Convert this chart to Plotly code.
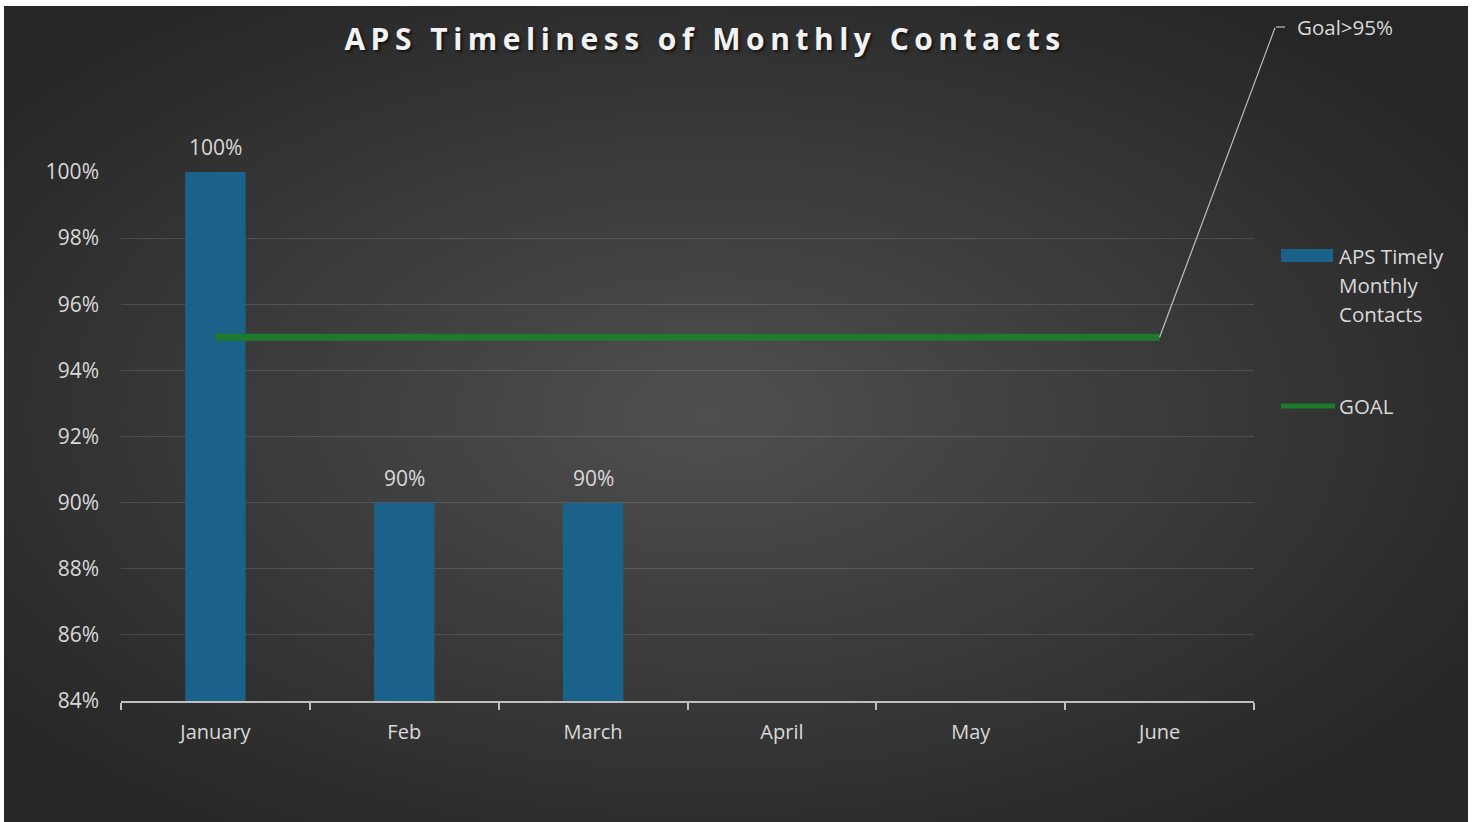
import base64
import plotly.graph_objects as go

# ---- data ----
months = ["January", "Feb", "March", "April", "May", "June"]
timely = [1.00, 0.90, 0.90, None, None, None]
goal = [0.95, 0.95, 0.95, 0.95, 0.95, 0.95]
bar_labels = ["100%", "90%", "90%", "", "", ""]
series_names = ["APS Timely Monthly Contacts", "GOAL"]
legend_lines = ["APS Timely", "Monthly", "Contacts"]
goal_note = "Goal>95%"
title_text = "APS Timeliness of Monthly Contacts"

W, H = 1476, 822
L, R, T, B = 121, 222, 172, 121
PW, PH = W - L - R, H - T - B


def px(x):
    return (x - L) / PW


def py(y):
    return (H - B - y) / PH


TXT = "#d9d9d9"
FONT = "Open Sans"
BAR_C = "#1a6289"
GOAL_C = "#1e7a2c"

svg = (
    "<svg xmlns='http://www.w3.org/2000/svg' width='1464' height='816' "
    "viewBox='0 0 1464 816' preserveAspectRatio='none'>"
    "<defs><radialGradient id='g' cx='0.48' cy='0.5' r='0.62'>"
    "<stop offset='0' stop-color='#4f4f4f'/>"
    "<stop offset='1' stop-color='#262626'/>"
    "</radialGradient></defs>"
    "<rect width='1464' height='816' fill='url(#g)'/></svg>"
)
bg_uri = "data:image/svg+xml;base64," + base64.b64encode(svg.encode()).decode()

fig = go.Figure()
fig.add_trace(go.Bar(
    x=months, y=timely, name=series_names[0],
    marker=dict(color=BAR_C, line=dict(width=0)),
    width=0.32, showlegend=False, cliponaxis=True,
))
fig.add_trace(go.Scatter(
    x=months, y=goal, name=series_names[1], mode="lines",
    line=dict(color=GOAL_C, width=7), showlegend=False,
))

shapes = [
    # custom legend swatches
    dict(type="rect", xref="paper", yref="paper",
         x0=px(1281), x1=px(1333), y0=py(262), y1=py(249),
         fillcolor=BAR_C, line=dict(width=0)),
    dict(type="line", xref="paper", yref="paper",
         x0=px(1281), x1=px(1335), y0=py(406), y1=py(406),
         line=dict(color=GOAL_C, width=5)),
    # leader line short horizontal piece
    dict(type="line", xref="paper", yref="paper",
         x0=px(1276), x1=px(1285), y0=py(27), y1=py(27),
         line=dict(color="#bfbfbf", width=1.2)),
]

annotations = []
# bar value labels
for m, v, lab in zip(months, timely, bar_labels):
    if v is not None:
        annotations.append(dict(
            x=m, y=v, xref="x", yref="y", text=lab, showarrow=False,
            yanchor="middle", yshift=25,
            font=dict(color=TXT, size=21, family=FONT)))

annotations += [
    dict(x=months[-1], y=goal[-1], xref="x", yref="y", text="",
         showarrow=True, arrowhead=0, arrowwidth=1.2, arrowcolor="#bfbfbf",
         ax=1276 - 1160, ay=27 - 338, standoff=0, startstandoff=0),
    dict(x=px(1295), y=py(27), xref="paper", yref="paper", text=goal_note,
         showarrow=False, xanchor="left", yanchor="middle",
         font=dict(color=TXT, size=20.5, family=FONT)),
]
for i, t in enumerate(legend_lines):
    annotations.append(dict(
        x=px(1337), y=py(256 + 29 * i), xref="paper", yref="paper", text=t,
        showarrow=False, xanchor="left", yanchor="middle",
        font=dict(color=TXT, size=20.5, family=FONT)))
annotations.append(dict(
    x=px(1337), y=py(406), xref="paper", yref="paper", text=series_names[1],
    showarrow=False, xanchor="left", yanchor="middle",
    font=dict(color=TXT, size=20.5, family=FONT)))

fig.update_layout(
    width=W, height=H,
    margin=dict(l=L, r=R, t=T, b=B, pad=0),
    paper_bgcolor="white",
    plot_bgcolor="rgba(0,0,0,0)",
    images=[dict(source=bg_uri, xref="paper", yref="paper",
                 x=px(4), y=py(6), sizex=px(1468) - px(4), sizey=py(6) - py(822),
                 xanchor="left", yanchor="top", sizing="stretch", layer="below")],
    title=dict(text="<b>" + title_text + "</b>", x=705 / W, xref="container",
               xanchor="center", y=1 - 39 / H, yref="container", yanchor="middle",
               font=dict(family=FONT, size=30, color="#f2f2f2",
                         shadow="2px 2px 3px rgba(0,0,0,0.6)")),
    bargap=0.68,
    showlegend=False,
    shapes=shapes,
    annotations=annotations,
    xaxis=dict(
        type="category", range=[-0.5, 5.5], autorange=False,
        showgrid=False, zeroline=False,
        showline=True, linecolor="#bfbfbf", linewidth=2,
        ticks="outside", tickson="boundaries", ticklen=7, tickwidth=2,
        tickcolor="#bfbfbf",
        tickfont=dict(color=TXT, size=20, family=FONT),
        ticklabelstandoff=12,
    ),
    yaxis=dict(
        range=[0.84, 1.0], autorange=False, dtick=0.02, tickformat=".0%",
        showgrid=True, gridcolor="rgba(255,255,255,0.13)", gridwidth=1.3,
        zeroline=False, showline=False,
        tickfont=dict(color=TXT, size=21, family=FONT),
        ticklabelstandoff=21,
    ),
)

post = (
    "document.body.style.margin='0';"
    "document.querySelectorAll('.gtitle').forEach(function(e){"
    "e.style.letterSpacing='5.5px';});"
)
fig.write_html("out.html", post_script=post, config={"displayModeBar": False})
